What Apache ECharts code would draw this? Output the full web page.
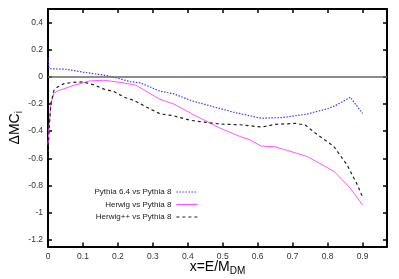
<!DOCTYPE html>
<html><head><meta charset="utf-8">
<script src="https://cdn.jsdelivr.net/npm/echarts@6/dist/echarts.min.js"></script>
<style>html,body{margin:0;padding:0;background:#fff}#c{width:399px;height:279px}</style>
</head><body><div id="c"></div>
<script>
const xTicks = [0, 0.1, 0.2, 0.3, 0.4, 0.5, 0.6, 0.7, 0.8, 0.9];
const yTicks = [-1.2, -1, -0.8, -0.6, -0.4, -0.2, 0, 0.2, 0.4];
const names = ['Pythia 6.4 vs Pythia 8', 'Herwig vs Pythia 8', 'Herwig++ vs Pythia 8'];

const pythiaX = [0, 0.003, 0.05, 0.1, 0.16, 0.185, 0.235, 0.265, 0.32, 0.36, 0.41, 0.48, 0.53, 0.61, 0.67, 0.74, 0.8, 0.82, 0.865, 0.9];
const pythiaY = [0.14, 0.06, 0.056, 0.035, 0.013, 0, -0.035, -0.045, -0.105, -0.125, -0.175, -0.225, -0.26, -0.305, -0.3, -0.275, -0.235, -0.215, -0.15, -0.27];

const herwigX = [0, 0.003, 0.008, 0.017, 0.032, 0.074, 0.12, 0.16, 0.206, 0.25, 0.27, 0.32, 0.36, 0.41, 0.49, 0.55, 0.575, 0.61, 0.65, 0.74, 0.8, 0.82, 0.865, 0.9];
const herwigY = [-0.5, -0.37, -0.2, -0.12, -0.1, -0.062, -0.03, -0.025, -0.04, -0.06, -0.09, -0.165, -0.2, -0.27, -0.375, -0.44, -0.46, -0.51, -0.515, -0.585, -0.67, -0.7, -0.82, -0.945];

const herwigppX = [0, 0.003, 0.008, 0.017, 0.027, 0.046, 0.074, 0.1, 0.132, 0.16, 0.19, 0.218, 0.246, 0.283, 0.321, 0.358, 0.407, 0.436, 0.493, 0.55, 0.612, 0.65, 0.708, 0.736, 0.76, 0.817, 0.856, 0.885, 0.9];
const herwigppY = [-0.6, -0.4, -0.2, -0.1, -0.075, -0.05, -0.04, -0.037, -0.06, -0.09, -0.11, -0.15, -0.174, -0.224, -0.273, -0.286, -0.32, -0.33, -0.348, -0.353, -0.37, -0.35, -0.343, -0.355, -0.405, -0.51, -0.65, -0.795, -0.885];

const pair = (xs, ys) => xs.map((x, i) => [x, ys[i]]);
const FONT = 'Liberation Sans';

const chart = echarts.init(document.getElementById('c'));

function xAx(pos, withLabels) {
  return {
    type: 'value', min: 0, max: 0.97, position: pos,
    axisLine: { show: true, onZero: false, lineStyle: { color: '#000', width: 2 } },
    axisTick: { show: true, inside: true, length: 4, customValues: xTicks, lineStyle: { color: '#000', width: 1.5 } },
    axisLabel: { show: withLabels, customValues: xTicks, fontSize: 8.5, color: '#333', margin: 6, fontFamily: FONT },
    splitLine: { show: false }
  };
}
function yAx(pos, withLabels) {
  return {
    type: 'value', min: -1.25, max: 0.5, position: pos,
    axisLine: { show: true, onZero: false, lineStyle: { color: '#000', width: 2 } },
    axisTick: { show: true, inside: true, length: 4, customValues: yTicks, lineStyle: { color: '#000', width: 1.5 } },
    axisLabel: { show: withLabels, customValues: yTicks, fontSize: 8.5, color: '#333', margin: 5, fontFamily: FONT },
    splitLine: { show: false }
  };
}

const xBottom = Object.assign(xAx('bottom', true), {
  name: '{a|x=E/M}{b|DM}', nameLocation: 'middle', nameGap: 14, nameMoveOverlap: false,
  nameTextStyle: { fontFamily: FONT, rich: {
    a: { fontSize: 14, color: '#000', fontFamily: FONT, lineHeight: 16, verticalAlign: 'top' },
    b: { fontSize: 10, color: '#000', fontFamily: FONT, lineHeight: 10, verticalAlign: 'bottom' }
  } }
});
const yLeft = Object.assign(yAx('left', true), {
  name: '{a|ΔMC}{b|i}', nameLocation: 'middle', nameGap: 24, nameRotate: 90, nameMoveOverlap: false,
  nameTextStyle: { fontFamily: FONT, rich: {
    a: { fontSize: 14, color: '#000', fontFamily: FONT, lineHeight: 16, verticalAlign: 'top' },
    b: { fontSize: 10, color: '#000', fontFamily: FONT, lineHeight: 10, verticalAlign: 'bottom' }
  } }
});

const colors = ['#3a3aff', '#ff55ff', '#222222'];
const types = [[1.5, 1.5], 'solid', [3, 3]];
const datas = [pair(pythiaX, pythiaY), pair(herwigX, herwigY), pair(herwigppX, herwigppY)];
const legendTops = [188, 200.5, 213];

const series = names.map((n, i) => ({
  name: n, type: 'line', data: datas[i], showSymbol: false, symbol: 'none',
  xAxisIndex: 0, yAxisIndex: 0, animation: false,
  lineStyle: { color: colors[i], width: i === 1 ? 1 : 1.2, type: types[i] },
  itemStyle: { color: colors[i] },
  z: 3
}));
series[0].markLine = {
  silent: true, symbol: ['none', 'none'], label: { show: false },
  lineStyle: { color: '#666', width: 1.5, type: 'solid' },
  data: [{ yAxis: 0 }], animation: false
};

chart.setOption({
  animation: false,
  grid: { left: 48, right: 12, top: 9, bottom: 32.5, containLabel: false, outerBoundsMode: 'none' },
  xAxis: [xBottom, xAx('top', false)],
  yAxis: [yLeft, yAx('right', false)],
  legend: names.map((n, i) => ({
    data: [n], right: 201, top: legendTops[i], orient: 'vertical', align: 'right',
    padding: 0, itemWidth: 21, itemHeight: 8, itemGap: 0,
    itemStyle: { opacity: 0 },
    lineStyle: { width: 1.2 },
    textStyle: { fontSize: 8, color: '#222', fontFamily: FONT },
    selectedMode: false
  })),
  series: series
});
</script></body></html>
